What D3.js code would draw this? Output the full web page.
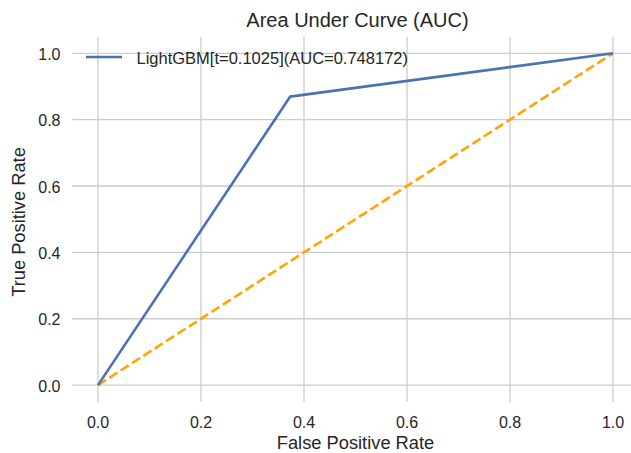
<!DOCTYPE html>
<html lang="en">
<head>
  <meta charset="UTF-8" />
  <title>Area Under Curve (AUC)</title>
  <script src="https://d3js.org/d3.v7.min.js"></script>
  <style>
    body {
      margin: 0;
      background: #fff;
      overflow: hidden;
    }
    svg {
      display: block;
      font-family: "Liberation Sans", Arial, sans-serif;
    }
  </style>
</head>
<body>

<svg id="chart" width="631" height="453"></svg>

<script>
// ROC points
const fpr = [0, 0.3730, 1];
const tpr = [0, 0.8693, 1];
const chance = [0, 1];
const xTicks = [0, 0.2, 0.4, 0.6, 0.8, 1.0];
const yTicks = [0, 0.2, 0.4, 0.6, 0.8, 1.0];
const legendLabel = "LightGBM[t=0.1025](AUC=0.748172)";

const svg = d3.select("#chart");
const textColor = "#262626";
const gridColor = "#cccccc";

const x = d3.scaleLinear().domain([-0.05, 1.05]).range([72.25, 638.75]);
const y = d3.scaleLinear().domain([-0.05, 1.05]).range([401.7, 36.7]);

// gridlines
svg.append("g")
  .selectAll("line")
  .data(xTicks)
  .join("line")
  .attr("x1", d => x(d)).attr("x2", d => x(d))
  .attr("y1", y.range()[1]).attr("y2", y.range()[0])
  .attr("stroke", gridColor)
  .attr("stroke-width", 1.3);

svg.append("g")
  .selectAll("line")
  .data(yTicks)
  .join("line")
  .attr("x1", x.range()[0]).attr("x2", x.range()[1])
  .attr("y1", d => y(d)).attr("y2", d => y(d))
  .attr("stroke", gridColor)
  .attr("stroke-width", 1.3);

// tick labels
svg.append("g")
  .selectAll("text")
  .data(xTicks)
  .join("text")
  .attr("x", d => x(d))
  .attr("y", 428)
  .attr("text-anchor", "middle")
  .attr("font-size", 16)
  .attr("fill", textColor)
  .text(d => d.toFixed(1));

svg.append("g")
  .selectAll("text")
  .data(yTicks)
  .join("text")
  .attr("x", 60.5)
  .attr("y", d => y(d) + 6.5)
  .attr("text-anchor", "end")
  .attr("font-size", 16)
  .attr("fill", textColor)
  .text(d => d.toFixed(1));

// diagonal reference
const line = d3.line().x(d => x(d[0])).y(d => y(d[1]));

svg.append("path")
  .datum(chance.map(v => [v, v]))
  .attr("d", line)
  .attr("fill", "none")
  .attr("stroke", "#ffa500")
  .attr("stroke-width", 2.6)
  .attr("stroke-dasharray", "9.5,4");

// ROC curve
svg.append("path")
  .datum(fpr.map((f, i) => [f, tpr[i]]))
  .attr("d", line)
  .attr("fill", "none")
  .attr("stroke", "#4c72b0")
  .attr("stroke-width", 2.6)
  .attr("stroke-linejoin", "round");

// legend (no frame)
svg.append("line")
  .attr("x1", 86).attr("x2", 122)
  .attr("y1", 57).attr("y2", 57)
  .attr("stroke", "#4c72b0")
  .attr("stroke-width", 2.6);

svg.append("text")
  .attr("x", 136.5)
  .attr("y", 63.5)
  .attr("font-size", 16.5)
  .attr("fill", textColor)
  .text(legendLabel);

// title and axis labels
const midX = (x.range()[0] + x.range()[1]) / 2;

svg.append("text")
  .attr("x", midX + 2)
  .attr("y", 27.3)
  .attr("text-anchor", "middle")
  .attr("font-size", 20)
  .attr("fill", textColor)
  .text("Area Under Curve (AUC)");

svg.append("text")
  .attr("x", midX)
  .attr("y", 449)
  .attr("text-anchor", "middle")
  .attr("font-size", 18.3)
  .attr("fill", textColor)
  .text("False Positive Rate");

svg.append("text")
  .attr("transform", "translate(25,222) rotate(-90)")
  .attr("text-anchor", "middle")
  .attr("font-size", 18.3)
  .attr("fill", textColor)
  .text("True Positive Rate");
</script>

</body>
</html>
